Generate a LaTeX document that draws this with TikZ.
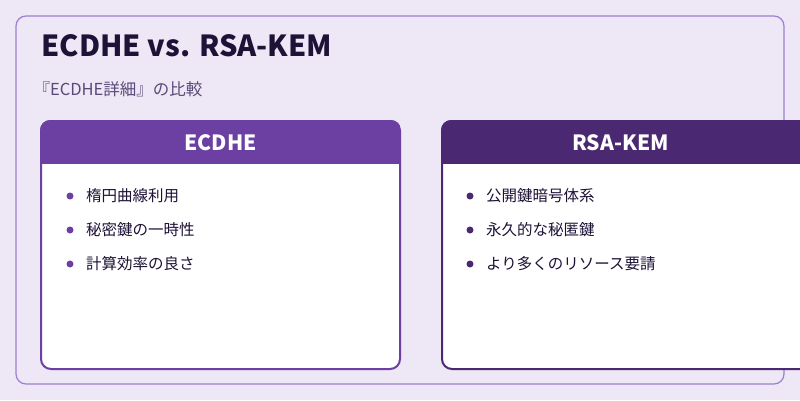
\documentclass[tikz,border=0pt]{standalone}
\usepackage{fontspec}
\setmainfont{Noto Sans CJK JP}
\usetikzlibrary{positioning}
\definecolor{bgpurple}{HTML}{EDE7F6}
\definecolor{framepurple}{HTML}{9C7FD0}
\definecolor{titleink}{HTML}{1E1236}
\definecolor{subink}{HTML}{5A4A78}
\definecolor{ecdhepurple}{HTML}{6C3FA2}
\definecolor{rsapurple}{HTML}{4A2872}
\begin{document}
\begin{tikzpicture}[x=1pt,y=-1pt,
    card/.style={draw=#1,line width=2pt,fill=white,rounded corners=10pt},
    headtext/.style={font=\fontsize{21}{24}\selectfont\bfseries,text=white},
    itemtext/.style={font=\fontsize{15.5}{18}\selectfont,text=titleink,anchor=west},
    bullet/.style={circle,fill=#1,inner sep=0pt,minimum size=7pt}]
  \useasboundingbox[fill=bgpurple] (0,0) rectangle (800,400);
  \draw[framepurple,line width=1.2pt,rounded corners=10pt] (16,16) rectangle (784,384);
  \node[anchor=west,font=\fontsize{29}{34}\selectfont\bfseries,text=titleink] (title) at (38,46) {ECDHE vs. RSA-KEM};
  \node[anchor=west,font=\fontsize{16.5}{19}\selectfont,text=subink] (subtitle) at (30,89) {『ECDHE詳細』の比較};
  % ECDHE card
  \draw[card=ecdhepurple] (41,121) rectangle (400,369);
  \begin{scope}
    \clip[rounded corners=10pt] (40,120) rectangle (401,370);
    \fill[ecdhepurple] (40,120) rectangle (401,164);
  \end{scope}
  \node[headtext] (ecdhe) at (220.5,143) {ECDHE};
  \foreach \y/\txt [count=\i] in {196/楕円曲線利用,230/秘密鍵の一時性,264/計算効率の良さ} {
    \node[bullet=ecdhepurple] (eb\i) at (70,\y) {};
    \node[itemtext,right=9pt of eb\i] (ei\i) {\txt};
  }
  % RSA-KEM card
  \draw[card=rsapurple] (442,121) rectangle (810,369);
  \begin{scope}
    \clip[rounded corners=10pt] (441,120) rectangle (811,370);
    \fill[rsapurple] (441,120) rectangle (811,164);
  \end{scope}
  \node[headtext] (rsakem) at (620.5,143) {RSA-KEM};
  \foreach \y/\txt [count=\i] in {196/公開鍵暗号体系,230/永久的な秘匿鍵,264/より多くのリソース要請} {
    \node[bullet=rsapurple] (rb\i) at (470,\y) {};
    \node[itemtext,right=9pt of rb\i] (ri\i) {\txt};
  }
\end{tikzpicture}
\end{document}
